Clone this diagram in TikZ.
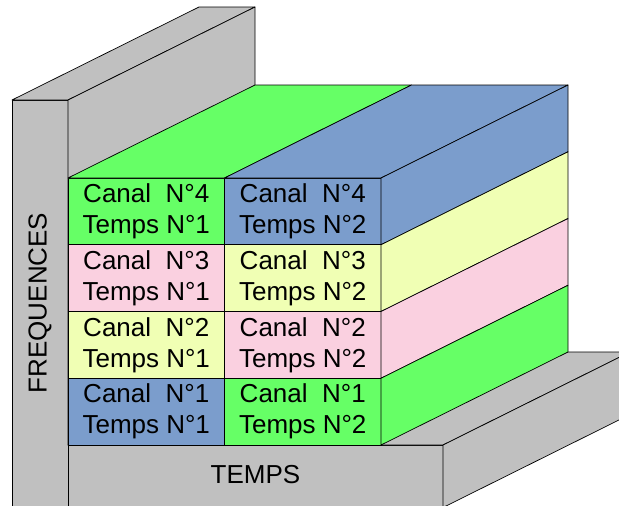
\documentclass[tikz,border=0pt]{standalone}
\usepackage{fontspec}
\setmainfont{Liberation Sans}
\usetikzlibrary{positioning}
\definecolor{canalgreen}{RGB}{102,255,102}
\definecolor{canalblue}{RGB}{123,157,204}
\definecolor{canalyellow}{RGB}{240,255,180}
\definecolor{canalpink}{RGB}{250,208,224}
\definecolor{wallgray}{RGB}{192,192,192}

\begin{document}
\begin{tikzpicture}[
  x=1pt, y=-1pt,
  line width=0.7pt,
  line join=round,
  wall/.style={draw, fill=wallgray},
  cell/.style={
    rectangle,
    draw,
    inner sep=0pt,
    outer sep=0pt,
    minimum width=156.5pt,
    minimum height=66.75pt,
    align=center,
    font=\fontsize{26}{31}\selectfont},
  ]
  \useasboundingbox (0,0) rectangle (619,506);
  \clip (0,0) rectangle (619,506);

  % left wall
  \draw[wall] (12,100) rectangle (68,510);
  \draw[wall] (12,100) -- (199,7) -- (255,7) -- (68,100) -- cycle;
  \draw[wall] (68,100) -- (255,7) -- (255,352) -- (68,445) -- cycle;

  % bottom slab
  \draw[wall] (68,445) rectangle (443,507.5);
  \draw[wall] (68,445) -- (255,352) -- (630,352) -- (443,445) -- cycle;
  \draw[wall] (443,445) -- (630,352) -- (630,414.5) -- (443,507.5) -- cycle;

  \node[cell, fill=canalgreen] (c4t1) at (146.25,211.375) {Canal\ \ N°4\\Temps N°1};
  \node[cell, fill=canalblue, right=0pt of c4t1] (c4t2) {Canal\ \ N°4\\Temps N°2};
  \node[cell, fill=canalpink, below=0pt of c4t1] (c3t1) {Canal\ \ N°3\\Temps N°1};
  \node[cell, fill=canalyellow, right=0pt of c3t1] (c3t2) {Canal\ \ N°3\\Temps N°2};
  \node[cell, fill=canalyellow, below=0pt of c3t1] (c2t1) {Canal\ \ N°2\\Temps N°1};
  \node[cell, fill=canalpink, right=0pt of c2t1] (c2t2) {Canal\ \ N°2\\Temps N°2};
  \node[cell, fill=canalblue, below=0pt of c2t1] (c1t1) {Canal\ \ N°1\\Temps N°1};
  \node[cell, fill=canalgreen, right=0pt of c1t1] (c1t2) {Canal\ \ N°1\\Temps N°2};

  % top faces
  \draw[fill=canalgreen] (c4t1.north west) -- ++(187,-93) -- ++(156.5,0) -- (c4t1.north east) -- cycle;
  \draw[fill=canalblue] (c4t2.north west) -- ++(187,-93) -- ++(156.5,0) -- (c4t2.north east) -- cycle;

  % side faces
  \draw[fill=canalblue] (c4t2.north east) -- ++(187,-93) -- ++(0,66.75) -- (c4t2.south east) -- cycle;
  \draw[fill=canalyellow] (c3t2.north east) -- ++(187,-93) -- ++(0,66.75) -- (c3t2.south east) -- cycle;
  \draw[fill=canalpink] (c2t2.north east) -- ++(187,-93) -- ++(0,66.75) -- (c2t2.south east) -- cycle;
  \draw[fill=canalgreen] (c1t2.north east) -- ++(187,-93) -- ++(0,66.75) -- (c1t2.south east) -- cycle;

  \node[rotate=90, font=\fontsize{26}{31}\selectfont] (freq) at (40,303) {FREQUENCES};
  \node[font=\fontsize{26}{31}\selectfont] (temps) at (255.5,475) {TEMPS};
\end{tikzpicture}
\end{document}
